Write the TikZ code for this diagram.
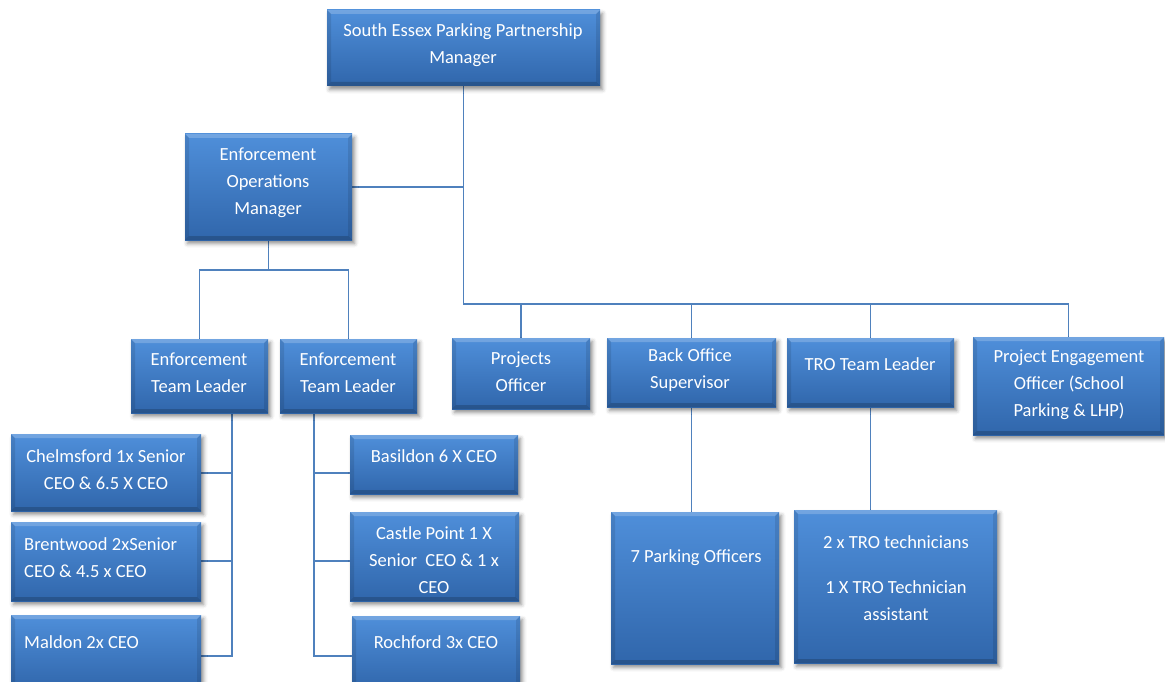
\documentclass[tikz,border=0pt]{standalone}
\usepackage{fontspec}
\setmainfont{Carlito}
\usetikzlibrary{shadows.blur}
\definecolor{linec}{HTML}{4F81BD}
\definecolor{btop}{HTML}{4F8FDA}
\definecolor{bmid}{HTML}{3E7BC6}
\definecolor{bbot}{HTML}{3066AB}
\pgfdeclarelayer{bg}\pgfsetlayers{bg,main}
\tikzset{
  orgbox/.style={draw=none, inner sep=0pt,
    top color=btop, middle color=bmid, bottom color=bbot,
    blur shadow={shadow xshift=2.5pt, shadow yshift=-3.5pt, shadow opacity=45, shadow blur radius=4pt},
    path picture={
      \fill[white,opacity=.2] (path picture bounding box.north west) -- (path picture bounding box.north east)
        -- ([xshift=-4pt,yshift=-4pt]path picture bounding box.north east) -- ([xshift=4pt,yshift=-4pt]path picture bounding box.north west) -- cycle;
      \fill[black,opacity=.18] (path picture bounding box.south west) -- (path picture bounding box.south east)
        -- ([xshift=-4pt,yshift=4pt]path picture bounding box.south east) -- ([xshift=4pt,yshift=4pt]path picture bounding box.south west) -- cycle;
      \fill[black,opacity=.10] (path picture bounding box.south west) -- (path picture bounding box.north west)
        -- ([xshift=4pt,yshift=-4pt]path picture bounding box.north west) -- ([xshift=4pt,yshift=4pt]path picture bounding box.south west) -- cycle;
      \fill[black,opacity=.10] (path picture bounding box.south east) -- (path picture bounding box.north east)
        -- ([xshift=-4pt,yshift=-4pt]path picture bounding box.north east) -- ([xshift=-4pt,yshift=4pt]path picture bounding box.south east) -- cycle;
    }},
  lbl/.style={text=white, font=\fontsize{18.5}{27}\selectfont, align=center, inner sep=0pt, yshift=-2pt},
  conn/.style={draw=linec, line width=1.2pt}
}
\begin{document}
\begin{tikzpicture}[x=1pt,y=-1pt]
\useasboundingbox (0,0) rectangle (1165,682);
\clip (0,0) rectangle (1165,682);
% boxes
\node[orgbox, minimum width=273, minimum height=76] (top) at (463.5,48) {};
\node[orgbox, minimum width=167, minimum height=106] (eom) at (268.5,187) {};
\node[orgbox, minimum width=137, minimum height=74] (etl1) at (199.5,376) {};
\node[orgbox, minimum width=137, minimum height=74] (etl2) at (348.5,376) {};
\node[orgbox, minimum width=138, minimum height=71] (proj) at (521,373.5) {};
\node[orgbox, minimum width=169, minimum height=69] (bos) at (691.5,372.5) {};
\node[orgbox, minimum width=167, minimum height=69] (tro) at (870.5,372.5) {};
\node[orgbox, minimum width=191, minimum height=98] (pe) at (1068.5,386) {};
\node[orgbox, minimum width=190, minimum height=77] (chelm) at (106,472.5) {};
\node[orgbox, minimum width=190, minimum height=79] (brent) at (106,561.5) {};
\node[orgbox, minimum width=190, minimum height=75] (maldon) at (106,652.5) {};
\node[orgbox, minimum width=168, minimum height=59] (basil) at (434,464.5) {};
\node[orgbox, minimum width=169, minimum height=89] (castle) at (434.5,556.5) {};
\node[orgbox, minimum width=168, minimum height=74] (roch) at (436,653) {};
\node[orgbox, minimum width=168, minimum height=152] (park) at (695,588) {};
\node[orgbox, minimum width=203, minimum height=153] (trot) at (895.5,586.5) {};
% labels
\node[lbl] (ltop) at (463,43.5) {South Essex Parking Partnership\\Manager};
\node[lbl] (leom) at (268,181) {Enforcement\\Operations\\Manager};
\node[lbl] (letl1) at (199,371) {Enforcement\\Team Leader};
\node[lbl] (letl2) at (348,370.5) {Enforcement\\Team Leader};
\node[lbl] (lproj) at (521,369.5) {Projects\\Officer};
\node[lbl] (lbos) at (690,368.5) {Back Office\\Supervisor};
\node[lbl] (ltro) at (870,362) {TRO Team Leader};
\node[lbl] (lpe) at (1069,383) {Project Engagement\\Officer (School\\Parking \& LHP)};
\node[lbl] (lchelm) at (106,467.5) {Chelmsford 1x Senior\\CEO \& 6.5 X CEO};
\node[lbl, align=left, anchor=west] (lbrent) at (24,555.5) {Brentwood 2xSenior\\CEO \& 4.5 x CEO};
\node[lbl, anchor=west] (lmaldon) at (24,640) {Maldon 2x CEO};
\node[lbl] (lbasil) at (434,454) {Basildon 6 X CEO};
\node[lbl] (lcastle) at (434,558) {Castle Point 1 X\\Senior\ \ CEO \& 1 x\\CEO};
\node[lbl] (lroch) at (436,640) {Rochford 3x CEO};
\node[lbl] (lpark) at (696,556) {7 Parking Officers};
\node[lbl] (ltrot) at (896,576.5) {2 x TRO technicians\\[18pt]1 X TRO Technician\\assistant};
% connectors
\coordinate (busy) at (0,304);
\coordinate (e2) at (0,270);
\coordinate (v1) at (232,0);
\coordinate (v2) at (314,0);
\coordinate (h1) at (0,473);
\coordinate (h2) at (0,561);
\coordinate (h3) at (0,656);
\begin{pgfonlayer}{bg}
\draw[conn] (top.south) -- (top.south |- busy) -- (pe.north |- busy) -- (pe.north);
\draw[conn] (eom.east) -- (top.south |- eom.east);
\draw[conn] (proj.north) -- (proj.north |- busy);
\draw[conn] (bos.north) -- (bos.north |- busy);
\draw[conn] (tro.north) -- (tro.north |- busy);
\draw[conn] (eom.south) -- (eom.south |- e2);
\draw[conn] (etl1.north) -- (etl1.north |- e2) -- (etl2.north |- e2) -- (etl2.north);
\draw[conn] (etl1.south -| v1) -- (v1 |- h3) -- (maldon.east |- h3);
\draw[conn] (chelm.east |- h1) -- (v1 |- h1);
\draw[conn] (brent.east |- h2) -- (v1 |- h2);
\draw[conn] (etl2.south -| v2) -- (v2 |- h3) -- (roch.west |- h3);
\draw[conn] (basil.west |- h1) -- (v2 |- h1);
\draw[conn] (castle.west |- h2) -- (v2 |- h2);
\draw[conn] (bos.south) -- (bos.south |- park.north);
\draw[conn] (tro.south) -- (tro.south |- trot.north);
\end{pgfonlayer}
\end{tikzpicture}
\end{document}
